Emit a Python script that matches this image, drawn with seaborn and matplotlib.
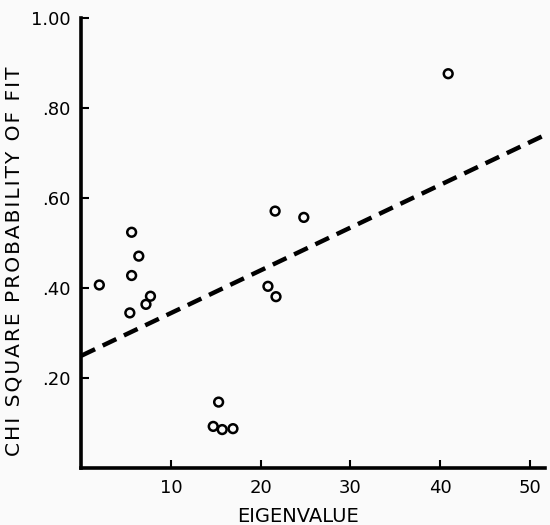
import seaborn as sns
import matplotlib.pyplot as plt
import numpy as np
import pandas as pd

# values
eigenvalue = [2.0, 5.6, 6.4, 5.6, 5.4, 7.2, 7.7, 20.8, 21.7, 21.6, 24.8,
              15.3, 14.7, 15.7, 16.9, 40.9]
chi_prob = [0.407, 0.524, 0.471, 0.428, 0.345, 0.364, 0.382, 0.404, 0.381,
            0.571, 0.557, 0.147, 0.093, 0.086, 0.088, 0.876]

# dashed trend line, end points
fit_x = [0.0, 51.7]
fit_y = [0.250, 0.740]

xticks = [10, 20, 30, 40, 50]
yticks = [0.20, 0.40, 0.60, 0.80, 1.00]
ytick_labels = ['.20', '.40', '.60', '.80', '1.00']

df = pd.DataFrame({'x': eigenvalue, 'y': chi_prob})
fit = pd.DataFrame({'x': fit_x, 'y': fit_y})

sns.set_style('ticks')
plt.rcParams['font.family'] = ['DejaVu Sans']

fig = plt.figure(figsize=(5.5, 5.25), dpi=100)
fig.patch.set_facecolor('#fafafa')
ax = fig.add_axes([0.148, 0.108, 0.843, 0.858])
ax.set_facecolor('#fafafa')

sns.lineplot(data=fit, x='x', y='y', ax=ax, color='black', lw=3.2,
             dashes=False, clip_on=False)
ax.lines[0].set_dashes((3.4, 1.9))

sns.scatterplot(data=df, x='x', y='y', ax=ax, marker='o', s=40,
                facecolor='none', edgecolor='black', linewidth=1.8,
                clip_on=False, zorder=3)

ax.set_xlim(0, 51.7)
ax.set_ylim(0, 1.0)
ax.set_xticks(xticks)
ax.set_xticklabels([str(t) for t in xticks])
ax.set_yticks(yticks)
ax.set_yticklabels(ytick_labels)

sns.despine(ax=ax)
for s in ['left', 'bottom']:
    ax.spines[s].set_linewidth(2.6)
    ax.spines[s].set_color('black')
ax.tick_params(direction='in', length=6, width=1.5, labelsize=13, pad=8,
               colors='black')

ax.set_xlabel('EIGENVALUE', fontsize=14, color='black')
ax.xaxis.set_label_coords(0.467, -0.085)

# spread letters a little, like the typed original
ylab = '\u200a'.join('CHI SQUARE PROBABILITY OF FIT')
ax.set_ylabel(ylab, fontsize=14.5, color='black')
ax.yaxis.set_label_coords(-0.125, 0.46)

fig.savefig('out.png', dpi=100, facecolor=fig.get_facecolor())
